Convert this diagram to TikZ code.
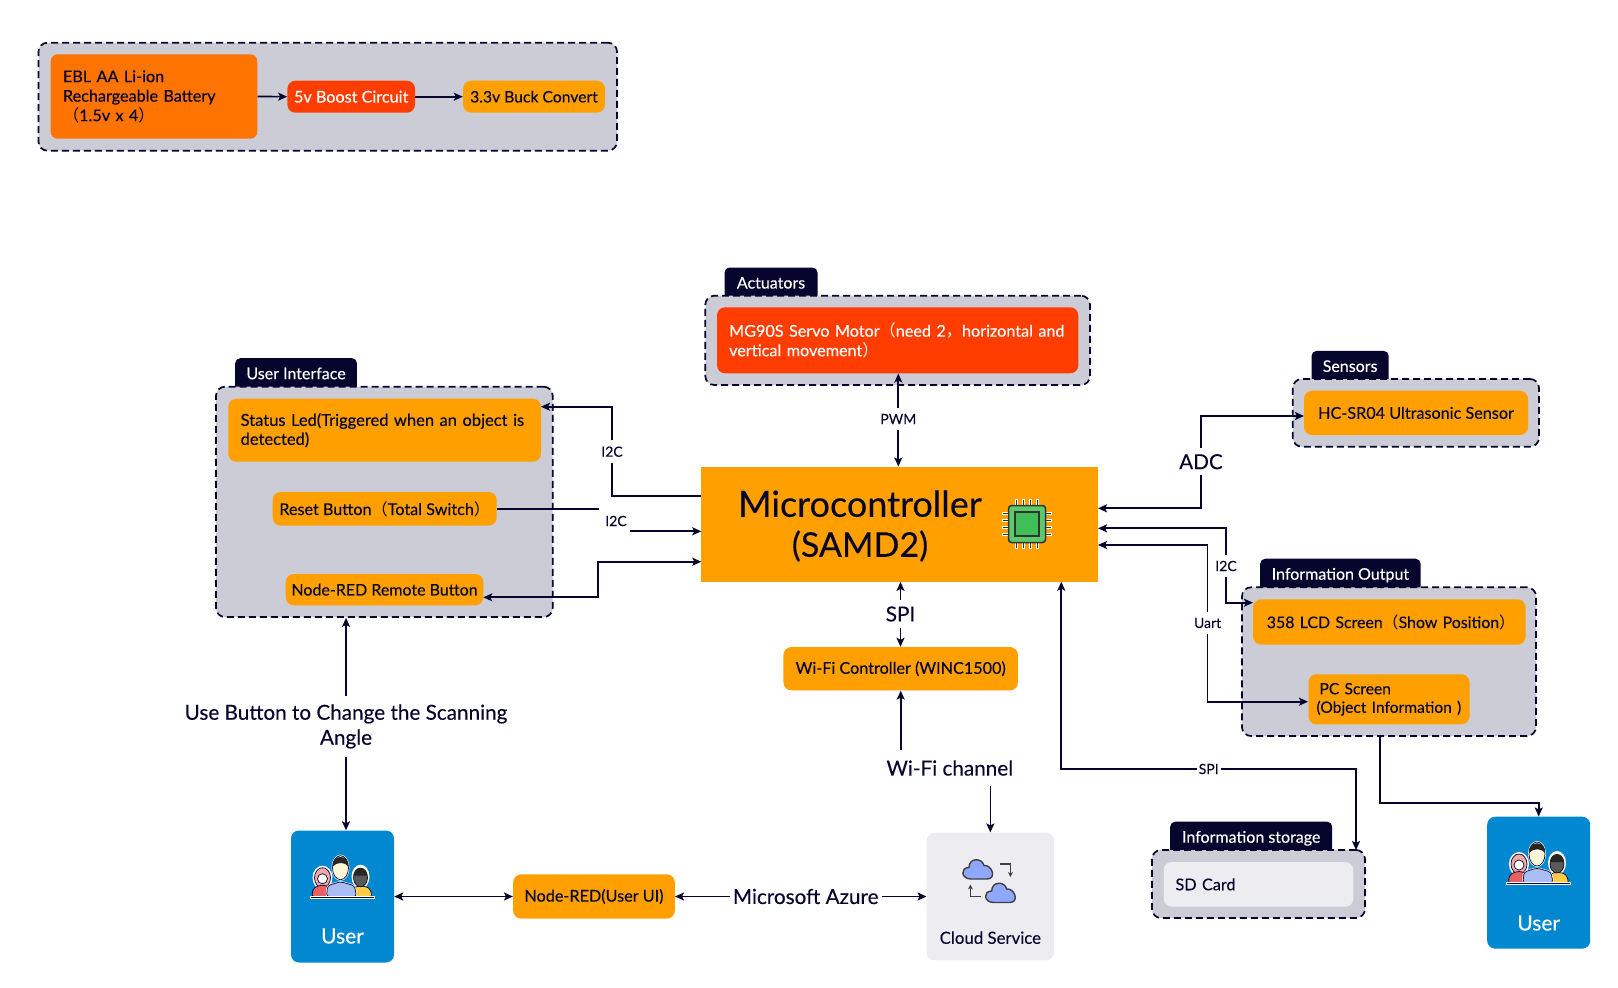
\documentclass[tikz,border=0pt]{standalone}
\usepackage{fontspec}
\usetikzlibrary{arrows.meta}
\setmainfont{Lato}[FakeBold=0.2]
\newfontfamily\cjk{Noto Sans CJK SC}

\definecolor{navy}{HTML}{05052E}
\definecolor{orangebox}{HTML}{FFA000}
\definecolor{batterybox}{HTML}{FF7300}
\definecolor{redbox}{HTML}{FF3D00}
\definecolor{panelgray}{HTML}{CBCCD6}
\definecolor{lightbox}{HTML}{EDECF0}
\definecolor{userblue}{HTML}{0288D1}
\definecolor{cloudblue}{HTML}{8FA8FF}
\definecolor{shirtblue}{HTML}{A9BDF2}
\definecolor{shirtred}{HTML}{E8605F}
\definecolor{hairpink}{HTML}{F0A8A8}
\definecolor{shirtyellow}{HTML}{FFCC44}
\definecolor{skinpale}{HTML}{FFF6D8}
\definecolor{chipgreen}{HTML}{5CC96A}
\definecolor{chipcore}{HTML}{3FBF55}

\tikzset{
  >={Stealth[length=9pt,width=8pt,inset=2pt]},
  wire/.style={draw=navy, line width=1.7pt},
  box/.style={fill=orangebox, rounded corners=8pt, text=navy, inner sep=0pt, align=left,
    font=\fontsize{16.2}{19.5}\selectfont},
  panel/.style={fill=panelgray, draw=navy, line width=1.7pt, dash pattern=on 7pt off 4pt, rounded corners=9pt},
  tab/.style={fill=navy, rounded corners=5pt, text=white, anchor=north west, inner sep=0pt,
    text height=21pt, text depth=14pt, align=center, font=\fontsize{16}{18}\selectfont},
  small/.style={text=navy, inner xsep=3pt, inner ysep=6pt, font=\fontsize{14}{16}\selectfont},
  big/.style={text=navy, inner xsep=3pt, inner ysep=6pt, align=center, font=\fontsize{20.7}{25}\selectfont},
  userbox/.style={fill=userblue, rounded corners=8pt, minimum width=103pt, minimum height=132pt},
  usertext/.style={text=white, font=\fontsize{21}{24}\selectfont},
  users/.pic={
    % left woman
    \fill[white] (-20,1) ellipse [x radius=10pt, y radius=12pt];
    \filldraw[fill=hairpink, draw=navy, line width=.7pt] (-20,1) ellipse [x radius=8pt, y radius=10pt];
    \filldraw[fill=white, draw=navy, line width=.7pt] (-20,2) circle [radius=5pt];
    \filldraw[fill=shirtred, draw=navy, line width=.7pt, rounded corners=3pt] (-31,20) -- (-29,11) -- (-20,8) -- (-11,11) -- (-11,20) -- cycle;
    % right man
    \fill[white] (18,0) ellipse [x radius=9pt, y radius=12pt];
    \filldraw[fill=shirtyellow, draw=navy, line width=.7pt, rounded corners=3pt] (10,20) -- (11,11) -- (18,9) -- (27,11) -- (30,20) -- cycle;
    \filldraw[fill=black!65, draw=navy, line width=.7pt] (18,1) ellipse [x radius=7pt, y radius=9pt];
    \fill[black!85] (11,-1) arc [start angle=180, end angle=0, x radius=7pt, y radius=8pt] -- cycle;
    % middle man
    \filldraw[fill=shirtblue, draw=white, line width=2pt, rounded corners=3pt] (-16,20) -- (-15,9) -- (-2,5) -- (12,9) -- (14,20) -- cycle;
    \filldraw[fill=shirtblue, draw=navy, line width=.7pt, rounded corners=3pt] (-16,20) -- (-15,9) -- (-2,5) -- (12,9) -- (14,20) -- cycle;
    \filldraw[fill=skinpale, draw=white, line width=2pt] (-2,-9) ellipse [x radius=8pt, y radius=12pt];
    \filldraw[fill=skinpale, draw=navy, line width=.7pt] (-2,-9) ellipse [x radius=8pt, y radius=12pt];
    \fill[black!85] (-10,-10) .. controls (-11,-23) and (7,-23) .. (6,-10) .. controls (3,-15) and (-6,-15) .. (-10,-10) -- cycle;
    % base line
    \draw[white, line width=3pt] (-33,20.5) -- (32,20.5);
    \draw[navy, line width=1pt] (-32,20.5) -- (31,20.5);
  },
  chip/.pic={
    \foreach \p in {-10.5,-3.5,3.5,10.5} {
      \draw[white, line width=3pt] (\p,-25) -- (\p,25);
      \draw[white, line width=3pt] (-25,\p) -- (25,\p);
      \draw[black!80, line width=1.3pt] (\p,-24) -- (\p,24);
      \draw[black!80, line width=1.3pt] (-24,\p) -- (24,\p);
    }
    \filldraw[fill=chipgreen, draw=black!80, line width=1.5pt, rounded corners=3pt] (-18.5,-18.5) rectangle (18.5,18.5);
    \filldraw[fill=chipcore, draw=black!80, line width=1.3pt] (-12,-12) rectangle (12,12);
  },
  cloudicon/.pic={
    \filldraw[fill=cloudblue, draw=black!75, line width=1.4pt] (-8,9.5) .. controls (-18,9.5) and (-19,-2) .. (-10,-2)
      .. controls (-10,-12) and (3,-12) .. (5,-4) .. controls (13,-5) and (18,9.5) .. (8,9.5) -- cycle;
  }
}

\begin{document}
\begin{tikzpicture}[x=1pt,y=-1pt]

\useasboundingbox (0,0) rectangle (1618,988);

% power supply
\node[panel, minimum width=578.5pt, minimum height=108pt] (panelpower) at (327.75,96.7) {};
\node[box, fill=batterybox, rounded corners=7pt, minimum width=206.7pt, minimum height=84.4pt, text width=182pt] (battery) at (154,96.5)
  {EBL AA Li-ion\\Rechargeable Battery\\{\cjk （}1.5v x 4{\cjk ）}};
\node[box, fill=redbox, text=white, minimum width=127.6pt, minimum height=32pt, align=center] (boost) at (351.2,96.7) {5v Boost Circuit};
\node[box, font=\fontsize{15.7}{19}\selectfont, minimum width=142pt, minimum height=32pt, align=center] (buck) at (534,96.7) {3.3v Buck Convert};

\draw[wire,->] (battery.east) -- (boost.west);
\draw[wire,->] (boost.east) -- (buck.west);

% tabs go under the panels
\node[tab, minimum width=121.7pt] (tabui) at (235,358) {User Interface};
\node[tab, minimum width=93pt] (tabact) at (724.3,267.3) {Actuators};
\node[tab, minimum width=77.2pt] (tabsens) at (1311.3,350.7) {Sensors};
\node[tab, minimum width=160.4pt] (tabinfo) at (1260,558.5) {Information Output};
\node[tab, minimum width=162pt] (tabsd) at (1170,821.5) {Information storage};

% panels
\node[panel, minimum width=336.7pt, minimum height=230.3pt] (panelui) at (384.35,501.85) {};
\node[panel, minimum width=384.7pt, minimum height=89.3pt] (panelact) at (897.65,340.35) {};
\node[panel, minimum width=246.2pt, minimum height=67.7pt] (panelsens) at (1415.9,412.85) {};
\node[panel, minimum width=294pt, minimum height=148.7pt] (panelinfo) at (1389,661.65) {};
\node[panel, minimum width=213pt, minimum height=68pt] (panelsd) at (1258.5,884) {};

% boxes
\node[box, font=\fontsize{16.5}{19}\selectfont, minimum width=312.7pt, minimum height=63pt, text width=288pt] (status) at (384.65,430.2)
  {\mbox{Status Led(Triggered when an object is}\\detected)};
\node[box, minimum width=224pt, minimum height=33.7pt, align=center] (reset) at (384.7,508.85) {Reset Button{\cjk （}Total Switch{\cjk ）}};
\node[box, font=\fontsize{16}{19}\selectfont, minimum width=197.6pt, minimum height=31.3pt, align=center] (remote) at (384.5,589.65) {Node-RED Remote Button};
\node[box, fill=redbox, text=white, minimum width=361.3pt, minimum height=66pt, text width=337pt] (servo) at (897.65,340.3)
  {\mbox{MG90S Servo Motor{\cjk （}need 2{\cjk ，}horizontal and}\\vertical movement{\cjk ）}};
\node[fill=orangebox, minimum width=396.7pt, minimum height=115pt] (micro) at (899.65,524.2) {};
\node[text=navy, align=center, font=\fontsize{36}{40}\selectfont] (microtext) at (860,526) {Microcontroller\\{\fontsize{34}{40}\selectfont (SAMD2)}};
\node[box, minimum width=224pt, minimum height=44.3pt, align=center] (hcsr) at (1416,412.85) {HC-SR04 Ultrasonic Sensor};
\node[box, font=\fontsize{15.9}{19}\selectfont, minimum width=272.5pt, minimum height=45.4pt, text width=245pt] (lcd) at (1389.3,622) {\mbox{358 LCD Screen{\cjk （}Show Position{\cjk ）}}};
\node[box, font=\fontsize{15.6}{18.5}\selectfont, minimum width=161pt, minimum height=50pt, text width=145pt] (pcscreen) at (1389,699.3)
  {\hspace*{3pt}PC Screen\\\mbox{(Object Information )}};
\node[box, minimum width=234.5pt, minimum height=43.4pt, align=center] (wifi) at (900.7,668.7) {Wi-Fi Controller (WINC1500)};
\node[box, minimum width=161.7pt, minimum height=44.3pt, align=center] (nodeui) at (594,896.5) {Node-RED(User UI)};
\node[box, fill=lightbox, minimum width=127.3pt, minimum height=127.7pt] (cloud) at (990.35,896.5) {};
\node[text=navy, font=\fontsize{16.8}{19}\selectfont] (cloudtext) at (990.35,937.7) {Cloud Service};
\node[box, fill=lightbox, minimum width=189.5pt, minimum height=44.7pt, text width=166pt] (sdcard) at (1258.5,884.35) {SD Card};
\node[userbox] (userleft) at (342.5,896.5) {};
\node[usertext] (userlefttext) at (342.5,936) {User};
\node[userbox] (userright) at (1538.7,882.7) {};
\node[usertext] (userrighttext) at (1538.7,923) {User};

% icons
\pic at (342.5,876.7) {users};
\pic at (1539,863) {users};
\pic at (1027,524) {chip};
\pic at (979,869.5) {cloudicon};
\pic at (1001.7,893) {cloudicon};
\draw[black!75, line width=1.3pt, ->, >={Stealth[length=5pt,width=5pt]}] (999.9,864) -- (1010.4,864) -- (1010.4,877);
\draw[black!75, line width=1.3pt, ->, >={Stealth[length=5pt,width=5pt]}] (980.5,896.7) -- (970.4,896.7) -- (970.4,884.5);

% labels on the lines
\node[small] (i2cone) at (612,451.7) {I2C};
\node[small] (i2ctwo) at (616,521) {I2C};
\node[small] (pwm) at (898.3,419) {PWM};
\node[big] (adc) at (1201,461.7) {ADC};
\node[small] (i2cthree) at (1226,566) {I2C};
\node[small] (uart) at (1207.6,623) {Uart};
\node[big] (spi) at (900.5,614) {SPI};
\node[big] (wifichan) at (949.8,768) {Wi-Fi channel};
\node[small, inner xsep=2pt] (spisd) at (1208.7,769) {SPI};
\node[big, inner xsep=3pt] (azure) at (805.7,896.5) {Microsoft Azure};
\node[big, inner ysep=8pt] (usebutton) at (346,726.5) {Use Button to Change the Scanning\\Angle};

% end points on the box sides
\coordinate (mcua) at (701.3,495.7);
\coordinate (mcub) at (701.3,531.3);
\coordinate (mcuc) at (701.3,561.7);
\coordinate (mcud) at (1098,508.3);
\coordinate (mcue) at (1098,528.3);
\coordinate (mcuf) at (1098,545);
\coordinate (mcug) at (1061.3,581.7);
\coordinate (statusin) at (541,406.7);
\coordinate (resetend) at (599,508.85);
\coordinate (i2cstart) at (630,531.3);
\coordinate (remotein) at (483.3,597.3);
\coordinate (turnc) at (598.3,561.7);
\coordinate (hcin) at (1304,416);
\coordinate (lcdin) at (1253,602.7);
\coordinate (pcin) at (1308,701.7);
\coordinate (sdin) at (1356,850);
\coordinate (infoout) at (1379.7,736);
\coordinate (wifichana) at (900.7,750);
\coordinate (wifichanb) at (990.35,786);

% connectors
\draw[wire,->] (i2cone.north) |- (statusin);
\draw[wire] (i2cone.south) |- (mcua);
\draw[wire] (reset.east) -- (resetend);
\draw[wire,->] (i2cstart) -- (mcub);
\draw[wire,<->] (remotein) -| (turnc) -- (mcuc);
\draw[wire,->] (pwm.north) -- (pwm |- servo.south);
\draw[wire,->] (pwm.south) -- (pwm |- micro.north);
\draw[wire,->] (adc.north) |- (hcin);
\draw[wire,->] (adc.south) |- (mcud);
\draw[wire,->] (i2cthree.north) |- (mcue);
\draw[wire,->] (i2cthree.south) |- (lcdin);
\draw[wire,->] (uart.north) |- (mcuf);
\draw[wire,->] (uart.south) |- (pcin);
\draw[wire,->] (spi.north) -- (spi |- micro.south);
\draw[wire,->] (spi.south) -- (spi |- wifi.north);
\draw[wire,->] (wifichana) -- (wifi.south);
\draw[wire,->] (wifichanb) -- (cloud.north);
\draw[wire,->] (spisd.west) -| (mcug);
\draw[wire,->] (spisd.east) -| (sdin);
\draw[wire,->] (infoout) |- ++(1,67.3) -| (userright.north);
\draw[wire,->] (azure.west) -- (nodeui.east);
\draw[wire,->] (azure.east) -- (cloud.west);
\draw[wire,<->] (userleft.east) -- (nodeui.west);
\draw[wire,->] (usebutton.north) -- (usebutton |- panelui.south);
\draw[wire,->] (usebutton.south) -- (usebutton |- userleft.north);

\end{tikzpicture}
\end{document}
